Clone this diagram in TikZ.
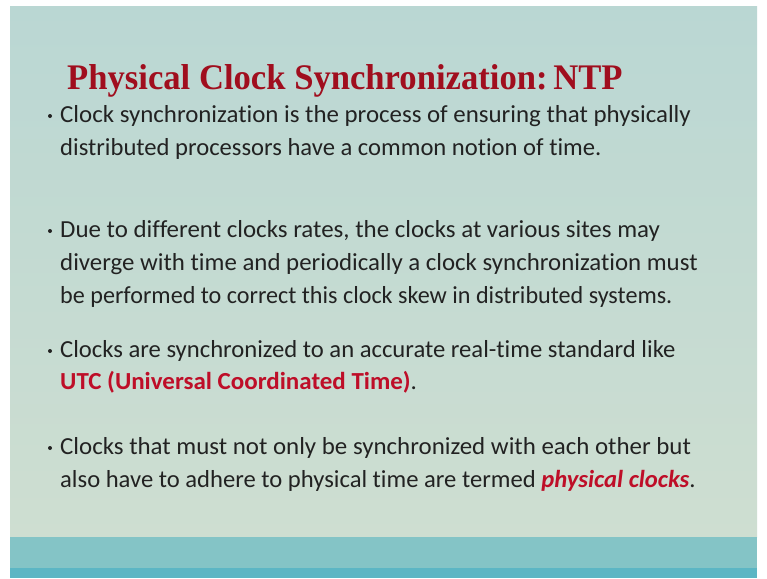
\documentclass[tikz,border=0pt]{standalone}
\usepackage{fontspec}
\setmainfont[Ligatures={NoCommon,NoRequired,NoContextual}]{Carlito}
\newfontfamily\titlefont{Liberation Serif}
\definecolor{slidetop}{RGB}{186,215,211}
\definecolor{slidebot}{RGB}{206,222,209}
\definecolor{bandcol}{RGB}{132,196,198}
\definecolor{stripcol}{RGB}{92,182,196}
\definecolor{titlered}{RGB}{160,14,30}
\definecolor{emred}{RGB}{190,14,40}
\definecolor{bodytext}{RGB}{34,34,34}
\newcommand{\fitline}[2]{\scalebox{#1}[1]{#2}}
\begin{document}
\begin{tikzpicture}[x=1pt,y=-1pt,
  txt/.style={anchor=base west,inner sep=0pt,text=bodytext,font=\fontsize{24.5}{33}\selectfont},
  bul/.style={circle,fill=bodytext,inner sep=0pt,minimum size=4pt},
  ttl/.style={anchor=base west,inner sep=0pt,text=titlered,font=\titlefont\bfseries\fontsize{36}{42}\selectfont}]
\useasboundingbox (0,0) rectangle (767,578);
\fill[white] (0,0) rectangle (767,578);
\shade[top color=slidetop,bottom color=slidebot] (10,7) rectangle (757,537);
\fill[bandcol] (10,537) rectangle (757,568);
\fill[stripcol] (10,568) rectangle (757,578);
\node[ttl] (title) at (67,89) {\scalebox{0.962}[1]{Physical Clock Synchronization:\,NTP}};
% bullet 1
\node[bul] (b1) at (50,116) {};
\node[txt] (l11) at (60,122) {\fitline{1.016}{Clock synchronization is the process of ensuring that physically}};
\node[txt] (l12) at (60,155) {\fitline{1.005}{distributed processors have a common notion of time.}};
% bullet 2
\node[bul] (b2) at (50,231) {};
\node[txt] (l21) at (60,237) {\fitline{1.018}{Due to different clocks rates, the clocks at various sites may}};
\node[txt] (l22) at (60,270) {\fitline{1.015}{diverge with time and periodically a clock synchronization must}};
\node[txt] (l23) at (60,303) {\fitline{0.985}{be performed to correct this clock skew in distributed systems.}};
% bullet 3
\node[bul] (b3) at (50,351) {};
\node[txt] (l31) at (60,357) {\fitline{1.006}{Clocks are synchronized to an accurate real-time standard like}};
\node[txt] (l32) at (60,389) {\fitline{1.02}{\textcolor{emred}{\bfseries UTC (Universal Coordinated Time)}.}};
% bullet 4
\node[bul] (b4) at (50,448) {};
\node[txt] (l41) at (60,454) {\fitline{1.017}{Clocks that must not only be synchronized with each other but}};
\node[txt] (l42) at (60,487) {\fitline{1.005}{also have to adhere to physical time are termed \textcolor{emred}{\bfseries\itshape physical clocks}.}};
\end{tikzpicture}
\end{document}
